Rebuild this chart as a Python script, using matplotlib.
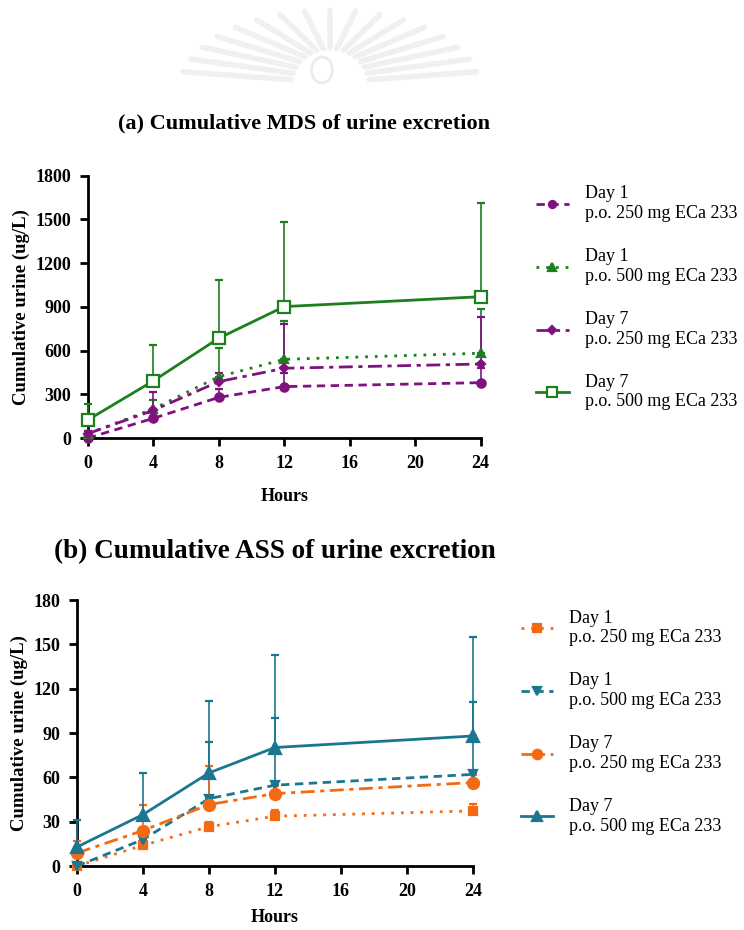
import matplotlib
matplotlib.use("Agg")
import matplotlib.pyplot as plt
from matplotlib.lines import Line2D
import numpy as np

plt.rcParams['font.family'] = ['Liberation Serif', 'DejaVu Serif']

hours = [0, 4, 8, 12, 24]

# Panel (a) MDS
mds_labels = ["Day 1\np.o. 250 mg ECa 233", "Day 1\np.o. 500 mg ECa 233",
              "Day 7\np.o. 250 mg ECa 233", "Day 7\np.o. 500 mg ECa 233"]
mds_d1_250 = [0, 135, 279, 353, 380]
mds_d1_250_err = [10, 40, 60, 90, 100]
mds_d1_500 = [30, 200, 421, 540, 582]
mds_d1_500_err = [20, 60, 195, 266, 304]
mds_d7_250 = [30, 190, 387, 479, 508]
mds_d7_250_err = [20, 124, 60, 302, 325]
mds_d7_500 = [124, 392, 685, 902, 970]
mds_d7_500_err = [107, 247, 400, 581, 642]

# Panel (b) ASS
ass_labels = mds_labels
ass_d1_250 = [0, 14, 26.6, 33.7, 37.3]
ass_d1_250_err = [0, 2, 3, 4, 5]
ass_d1_500 = [0, 17.9, 45.6, 54.7, 62]
ass_d1_500_err = [0, 5, 38.4, 45.3, 49]
ass_d7_250 = [8.8, 24, 41.6, 49, 56.5]
ass_d7_250_err = [8.2, 17.6, 26.4, 5, 5]
ass_d7_500 = [12.9, 34.8, 63, 80.2, 88]
ass_d7_500_err = [18.1, 28.2, 49, 62.5, 67]

purple = '#7f127f'
green = '#1e7f1e'
orange = '#f46a12'
teal = '#1b7690'

fig = plt.figure(figsize=(7.44, 9.3), dpi=100)

# faint watermark-like rays at the top (decoration)
cx, cy = 330 / 744, 1 - 88 / 930
for ang in np.linspace(12, 168, 17):
    a = np.deg2rad(ang)
    r0x, r0y = 40 / 744, 40 / 930
    r1x, r1y = 150 / 744, 78 / 930
    fig.add_artist(Line2D([cx + r0x * np.cos(a), cx + r1x * np.cos(a)],
                          [cy + r0y * np.sin(a), cy + r1y * np.sin(a)],
                          color='#f0f0f0', lw=4, solid_capstyle='round'))
circ = plt.Circle((322 / 744, 1 - 70 / 930), 0.014, transform=fig.transFigure,
                  fill=False, ec='#ebebeb', lw=2)
fig.add_artist(circ)


def style_axes(ax, ymax, ystep, xlabelpad):
    for s in ['top', 'right']:
        ax.spines[s].set_visible(False)
    for s in ['left', 'bottom']:
        ax.spines[s].set_linewidth(2)
    ax.set_xlim(0, 24)
    ax.set_ylim(0, ymax)
    ax.set_xticks(np.arange(0, 25, 4))
    ax.set_yticks(np.arange(0, ymax + 1, ystep))
    ax.tick_params(width=2, length=6, labelsize=13, pad=6)
    for lab in ax.get_xticklabels() + ax.get_yticklabels():
        lab.set_fontweight('bold')
    ax.set_xlabel('Hours', fontweight='bold', fontsize=13, labelpad=xlabelpad)
    ax.set_ylabel('Cumulative urine (ug/L)', fontweight='bold', fontsize=13.5, labelpad=4)
    ax.margins(0)


def draw(ax, series, labels):
    handles = []
    for (y, e, c, ls, m, ms, fc), lab in zip(series, labels):
        ax.errorbar(hours, y, yerr=[np.zeros(len(e)), e], color=c, ls=ls, lw=2,
                    marker=m, ms=ms, mfc=fc, mec=c, mew=1.6,
                    ecolor=c, elinewidth=1.2, capsize=3, capthick=1.2,
                    clip_on=False, zorder=3)
        handles.append(Line2D([], [], color=c, ls=ls, lw=2, marker=m,
                              ms=ms * 0.85, mfc=fc, mec=c, mew=1.6, label=lab))
    return handles


# Panel a
ax1 = fig.add_axes([0.118, 0.529, 0.528, 0.282])
series_a = [
    (mds_d1_250, mds_d1_250_err, purple, (0, (3, 2)), 'o', 6, purple),
    (mds_d1_500, mds_d1_500_err, green, (0, (1, 2.5)), '^', 6, green),
    (mds_d7_250, mds_d7_250_err, purple, (0, (5, 2, 1.5, 2)), 'D', 4.5, purple),
    (mds_d7_500, mds_d7_500_err, green, '-', 's', 8, 'white'),
]
h1 = draw(ax1, series_a, mds_labels)
style_axes(ax1, 1800, 300, 12)
ax1.set_title('(a) Cumulative MDS of urine excretion', fontweight='bold',
              fontsize=16, pad=34, x=0.55)
ax1.legend(handles=h1, loc='upper left', bbox_to_anchor=(1.1, 1.025), frameon=False,
           fontsize=13, labelspacing=1.45, handlelength=1.8, handletextpad=0.9)

# Panel b
ax2 = fig.add_axes([0.1035, 0.0688, 0.532, 0.286])
series_b = [
    (ass_d1_250, ass_d1_250_err, orange, (0, (1, 2.5)), 's', 6, orange),
    (ass_d1_500, ass_d1_500_err, teal, (0, (3, 2)), 'v', 6, teal),
    (ass_d7_250, ass_d7_250_err, orange, (0, (5, 2, 1.5, 2)), 'o', 8, orange),
    (ass_d7_500, ass_d7_500_err, teal, '-', '^', 8, teal),
]
h2 = draw(ax2, series_b, ass_labels)
style_axes(ax2, 180, 30, 7)
ax2.set_title('(b) Cumulative ASS of urine excretion', fontweight='bold',
              fontsize=19.5, pad=30, x=0.5)
ax2.legend(handles=h2, loc='upper left', bbox_to_anchor=(1.08, 1.025), frameon=False,
           fontsize=13, labelspacing=1.45, handlelength=1.8, handletextpad=0.9)

fig.savefig('out.png', dpi=100)
